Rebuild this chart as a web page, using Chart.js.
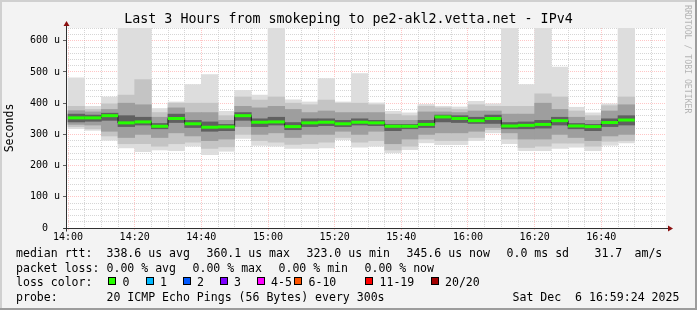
<!DOCTYPE html>
<html>
<head>
<meta charset="utf-8">
<script src="https://cdn.jsdelivr.net/npm/chart.js@4/dist/chart.umd.min.js"></script>
<style>
body { margin: 0; background: #f3f3f3; }
#wrap { position: relative; width: 697px; height: 310px; overflow: hidden; }
#chart { position: absolute; left: 0; top: 0; }
.txt { position: absolute; font-family: 'DejaVu Sans Mono', monospace; font-size: 11.55px; line-height: 14px; white-space: pre; color: #000; }
.sw { position: absolute; top: 277px; width: 6px; height: 6px; border: 1px solid #000; }
#title { position: absolute; left: 0; top: 11px; width: 697px; text-align: center; font-family: 'DejaVu Sans Mono', monospace; font-size: 13.3px; line-height: 16px; white-space: pre; }
#credit { position: absolute; left: 683px; top: 5px; writing-mode: vertical-rl; font-family: 'DejaVu Sans Mono', monospace; font-size: 8.2px; line-height: 10px; color: #b4b4b4; white-space: pre; }
</style>
</head>
<body>
<div id="wrap">
    <canvas id="chart" width="697" height="310"></canvas>
    <div id="title">Last 3 Hours from smokeping to pe2-akl2.vetta.net - IPv4</div>
    <div id="credit">RRDTOOL / TOBI OETIKER</div>

    <div class="txt" style="left:16px;top:246px">median rtt:</div>
    <div class="txt" style="left:106.5px;top:246px">338.6 us avg</div>
    <div class="txt" style="left:206.5px;top:246px">360.1 us max</div>
    <div class="txt" style="left:306.5px;top:246px">323.0 us min</div>
    <div class="txt" style="left:406.5px;top:246px">345.6 us now</div>
    <div class="txt" style="left:506.5px;top:246px">0.0 ms sd</div>
    <div class="txt" style="left:594.5px;top:246px">31.7</div>
    <div class="txt" style="left:634.5px;top:246px">am/s</div>

    <div class="txt" style="left:16px;top:261px">packet loss:</div>
    <div class="txt" style="left:106.5px;top:261px">0.00 % avg</div>
    <div class="txt" style="left:192.5px;top:261px">0.00 % max</div>
    <div class="txt" style="left:278.5px;top:261px">0.00 % min</div>
    <div class="txt" style="left:364.5px;top:261px">0.00 % now</div>

    <div class="txt" style="left:16px;top:274.5px">loss color:</div>
    <div id="losslegend"></div>

    <div class="txt" style="left:16px;top:289.5px">probe:</div>
    <div class="txt" style="left:106.5px;top:289.5px">20 ICMP Echo Pings (56 Bytes) every 300s</div>
    <div class="txt" style="left:512.5px;top:289.5px">Sat Dec  6 16:59:24 2025</div>
</div>
<script>
// 5 minute bins, start times
const bins = ['14:00', '14:05', '14:10', '14:15', '14:20', '14:25', '14:30', '14:35', '14:40', '14:45',
    '14:50', '14:55', '15:00', '15:05', '15:10', '15:15', '15:20', '15:25', '15:30', '15:35',
    '15:40', '15:45', '15:50', '15:55', '16:00', '16:05', '16:10', '16:15', '16:20', '16:25',
    '16:30', '16:35', '16:40', '16:45'];
const timeLabels = ['14:00', '14:20', '14:40', '15:00', '15:20', '15:40', '16:00', '16:20', '16:40'];
const yTickLabels = ['0  ', '100 u', '200 u', '300 u', '400 u', '500 u', '600 u'];

// median rtt (us)
const medianRtt = [353, 353, 360, 337, 340, 326, 351, 334, 323, 324, 360, 339, 340, 325, 337, 339, 334,
    339, 337, 326, 326, 332, 356, 351, 344, 351, 327, 329, 332, 344, 327, 325, 338, 346];

// smoke: min..max of the 20 pings, then narrower bands towards the median
const smokeMax = [481, 390, 420, 660, 660, 383, 404, 460, 492, 374, 441, 426, 660, 411, 404, 479, 404,
    495, 401, 374, 369, 396, 390, 388, 406, 398, 660, 460, 660, 516, 387, 369, 398, 660];
const smokeMin = [318, 313, 281, 257, 245, 250, 248, 262, 235, 246, 287, 265, 262, 255, 255, 257, 283,
    259, 262, 241, 251, 273, 267, 267, 280, 305, 270, 248, 248, 255, 259, 248, 265, 273];
const band2Hi = [390, 380, 398, 426, 476, 370, 400, 400, 400, 360, 420, 410, 420, 400, 395, 410, 400,
    400, 395, 365, 360, 390, 385, 380, 395, 390, 390, 390, 430, 420, 375, 360, 392, 420];
const band2Lo = [325, 318, 295, 270, 270, 262, 270, 275, 255, 260, 300, 280, 275, 268, 270, 275, 290,
    275, 280, 250, 262, 285, 280, 280, 290, 315, 285, 258, 262, 272, 272, 262, 278, 280];
const band3Hi = [376, 372, 380, 400, 395, 355, 385, 370, 370, 345, 390, 385, 390, 380, 370, 375, 370,
    370, 370, 345, 345, 372, 372, 370, 375, 375, 365, 365, 400, 380, 355, 345, 375, 395];
const band3Lo = [332, 330, 310, 290, 300, 290, 305, 295, 280, 285, 325, 300, 305, 290, 300, 300, 310,
    300, 310, 270, 285, 300, 305, 305, 310, 322, 305, 285, 285, 300, 290, 280, 295, 300];
const band4Hi = [365, 362, 368, 360, 355, 335, 365, 345, 340, 332, 370, 350, 355, 338, 350, 350, 345,
    350, 345, 332, 332, 345, 362, 360, 355, 362, 338, 340, 345, 355, 335, 332, 350, 360];
const band4Lo = [340, 342, 345, 325, 330, 318, 338, 322, 310, 312, 345, 325, 330, 315, 325, 328, 325,
    330, 328, 312, 318, 322, 340, 338, 335, 335, 318, 318, 320, 330, 318, 312, 325, 330];

const lossLabels = ['0', '1', '2', '3', '4-5', '6-10', '11-19', '20/20'];
const lossColors = ['#26ff00', '#00b8ff', '#0059ff', '#7e00ff', '#ff00ff', '#ff5500', '#ff0000', '#a10000'];

// legend swatch layout (px)
const swatchX = [108, 145.5, 182.5, 219.5, 256.5, 294, 365, 430.5];

const MAJOR = 'rgba(255,120,120,0.42)';
const MINOR = 'rgba(200,200,200,0.75)';

const lossBox = document.getElementById('losslegend');
lossLabels.forEach(function (label, i) {
    const sw = document.createElement('span');
    sw.className = 'sw';
    sw.style.left = swatchX[i] + 'px';
    sw.style.background = lossColors[i];
    lossBox.appendChild(sw);
    const t = document.createElement('span');
    t.className = 'txt';
    t.style.left = (swatchX[i] + 14.5) + 'px';
    t.style.top = '274.5px';
    t.textContent = label;
    lossBox.appendChild(t);
});

function toMinutes(t) {
    const [h, m] = t.split(':').map(Number);
    const [h0, m0] = timeLabels[0].split(':').map(Number);
    return (h - h0) * 60 + (m - m0);
}
const binCenter = bins.map(t => toMinutes(t) + 2.5);

function floating(lo, hi) {
    return binCenter.map((x, i) => ({x: x, y: [lo[i], hi[i]]}));
}
const medianPts = binCenter.map((x, i) => ({x: x, y: medianRtt[i]}));

// background, frame, axes with arrows
const frame = {
    id: 'frame',
    beforeDraw(chart) {
        const {ctx, width, height, chartArea: a} = chart;
        ctx.save();
        ctx.fillStyle = '#f3f3f3';
        ctx.fillRect(0, 0, width, height);
        ctx.fillStyle = '#d0d0d0';
        ctx.fillRect(0, 0, width, 2);
        ctx.fillRect(0, 0, 2, height);
        ctx.fillStyle = '#9c9c9c';
        ctx.fillRect(0, height - 2, width, 2);
        ctx.fillRect(width - 2, 0, 2, height);
        ctx.fillStyle = '#ffffff';
        ctx.fillRect(a.left, a.top, a.right - a.left, a.bottom - a.top);
        ctx.restore();
    },
    afterDraw(chart) {
        const {ctx, chartArea: a} = chart;
        const x0 = Math.round(a.left) + 0.5;
        const y0 = Math.round(a.bottom) + 0.5;
        ctx.save();
        ctx.strokeStyle = '#303030';
        ctx.lineWidth = 1;
        ctx.beginPath();
        ctx.moveTo(x0, y0 + 3);
        ctx.lineTo(x0, a.top - 4);
        ctx.moveTo(x0 - 3, y0);
        ctx.lineTo(a.right + 3, y0);
        ctx.stroke();
        ctx.fillStyle = '#8b1010';
        ctx.beginPath();
        ctx.moveTo(x0, a.top - 7);
        ctx.lineTo(x0 - 3, a.top - 2);
        ctx.lineTo(x0 + 3, a.top - 2);
        ctx.closePath();
        ctx.fill();
        ctx.beginPath();
        ctx.moveTo(a.right + 7, y0);
        ctx.lineTo(a.right + 2, y0 - 3);
        ctx.lineTo(a.right + 2, y0 + 3);
        ctx.closePath();
        ctx.fill();
        ctx.restore();
    }
};

Chart.defaults.font.family = "'DejaVu Sans Mono', monospace";
Chart.defaults.color = '#000';

new Chart(document.getElementById('chart'), {
    type: 'bar',
    data: {
        datasets: [
            {
                type: 'line',
                data: medianPts,
                showLine: false,
                pointStyle: 'line',
                pointRadius: 8.4,
                pointBorderWidth: 3,
                pointBorderColor: lossColors[0],
                order: 0
            },
            {
                type: 'line',
                data: medianPts,
                stepped: 'middle',
                borderColor: '#202020',
                borderWidth: 1,
                pointRadius: 0,
                order: 1
            },
            {data: floating(band4Lo, band4Hi), backgroundColor: '#606060', order: 2},
            {data: floating(band3Lo, band3Hi), backgroundColor: '#9e9e9e', order: 3},
            {data: floating(band2Lo, band2Hi), backgroundColor: '#c4c4c4', order: 4},
            {data: floating(smokeMin, smokeMax), backgroundColor: '#dddddd', order: 5}
        ]
    },
    options: {
        responsive: false,
        animation: false,
        events: [],
        layout: {padding: {top: 28, right: 31, left: 0, bottom: 0}},
        datasets: {
            bar: {grouped: false, barPercentage: 1, categoryPercentage: 1, borderWidth: 0}
        },
        plugins: {
            legend: {display: false},
            tooltip: {enabled: false},
            title: {display: false}
        },
        scales: {
            x: {
                type: 'linear',
                min: -0.6,
                max: 179.4,
                offset: false,
                z: 1,
                grid: {
                    offset: false,
                    tickLength: 2,
                    color: c => (c.tick && c.tick.value % 20 === 0) ? MAJOR : MINOR,
                    tickColor: c => (c.tick && c.tick.value % 20 === 0) ? MAJOR : 'rgba(0,0,0,0)'
                },
                border: {display: false, dash: [1, 1]},
                ticks: {
                    autoSkip: false,
                    maxRotation: 0,
                    padding: 1,
                    font: {size: 10},
                    callback: v => v % 20 === 0 ? timeLabels[v / 20] : ''
                },
                afterBuildTicks(scale) {
                    const t = [];
                    for (let m = 0; m < 180; m += 5) t.push({value: m});
                    scale.ticks = t;
                },
                afterFit(scale) {
                    scale.height = 82;
                }
            },
            y: {
                min: 0,
                max: 641,
                z: 1,
                grid: {
                    tickLength: 3,
                    color: c => (c.tick && c.tick.value % 100 === 0) ? MAJOR : MINOR,
                    tickColor: c => (c.tick && c.tick.value % 100 === 0) ? '#606060' : 'rgba(0,0,0,0)'
                },
                border: {display: false, dash: [1, 1]},
                title: {
                    display: true,
                    text: 'Seconds',
                    font: {size: 11.55},
                    padding: {top: 3, bottom: 0}
                },
                ticks: {
                    autoSkip: false,
                    padding: 3,
                    font: {size: 10},
                    callback: v => v % 100 === 0 ? yTickLabels[v / 100] : ''
                },
                afterBuildTicks(scale) {
                    const t = [];
                    for (let v = 0; v <= 640; v += 20) t.push({value: v});
                    scale.ticks = t;
                },
                afterFit(scale) {
                    scale.width = 66;
                }
            }
        }
    },
    plugins: [frame]
});
</script>
</body>
</html>
